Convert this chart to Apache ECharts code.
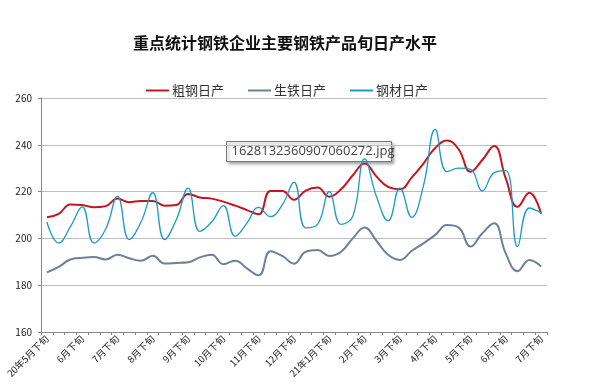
<!DOCTYPE html>
<html><head><meta charset="utf-8">
<script src="https://cdn.jsdelivr.net/npm/echarts@6/dist/echarts.min.js"></script>
<style>html,body{margin:0;padding:0;background:#fff}#c{width:595px;height:388px}</style>
</head><body><div id="c"></div>
<script>
var titleText = '重点统计钢铁企业主要钢铁产品旬日产水平';
var seriesNames = ['粗钢日产', '生铁日产', '钢材日产'];
var monthLabels = ['20年5月','6月','7月','8月','9月','10月','11月','12月','21年1月','2月','3月','4月','5月','6月','7月'];
var dekads = ['上旬','中旬','下旬'];
// 43 dekads: 20年5月下旬 ... 21年7月下旬
var categories = [];
(function(){
  categories.push(monthLabels[0] + '下旬');
  for (var m = 1; m < monthLabels.length; m++) {
    for (var d = 0; d < 3; d++) categories.push(monthLabels[m] + dekads[d]);
  }
})();
var crudeSteel = [209,210.5,214.5,214.3,213.3,213.8,217,215.5,216,216,214,214.3,219,217.5,217,215.7,214,212.1,210.3,220.3,220.3,216.5,220.4,221.7,217.8,221,227,232,226.5,222,221,226,232,238.6,241.8,238,228.5,233.5,239.5,225.5,213.5,219.5,210.5];
var pigIron = [185.5,187.8,191,191.7,192,191,193,191.5,190.5,192.6,189.3,189.5,189.8,191.9,193,189,190.5,187.2,184.2,194.5,192.5,189.2,194.3,195,192.5,194.3,200,204.7,199,193,190.8,194.6,197.9,201.5,205.7,204.6,196.5,202.2,206.5,193.5,186,190.8,188];
var steelProducts = [207,198,205,213.5,198,204,218,199.5,207,219.5,199.5,208,221.5,203,207,214,201,206.5,213.3,209.3,214.3,224,204.5,206,220,206,209.5,234,218,207.5,221.5,209,222.5,246.6,228.5,230,229.5,220.3,228,229,196.5,213,211];
var yMin = 160, yMax = 260, yStep = 20;

var chart = echarts.init(document.getElementById('c'), null, {renderer:'canvas'});
var font = '"Noto Sans CJK SC", "Noto Sans", sans-serif';
chart.setOption({
  animation: false,
  backgroundColor: '#fff',
  title: {
    text: titleText, left: 128, top: 30,
    textStyle: {fontFamily: font, fontSize: 16, fontWeight: 'bold', color: '#111'}
  },
  legend: {
    data: seriesNames, left: 141, top: 79, itemGap: 24,
    itemWidth: 23, itemHeight: 2, icon: 'rect',
    textStyle: {fontFamily: font, fontSize: 13, color: '#333', padding: [0,0,0,-2]}
  },
  grid: {left: 41, right: 48, top: 98, bottom: 56},
  xAxis: {
    type: 'category', data: categories, boundaryGap: true,
    axisLine: {lineStyle: {color: '#888', width: 1}},
    axisTick: {show: true, interval: 0, length: 3, lineStyle: {color: '#888'}},
    axisLabel: {interval: 2, rotate: 45, fontSize: 9.5, color: '#222', fontFamily: font, margin: 5}
  },
  yAxis: {
    type: 'value', min: yMin, max: yMax, interval: yStep,
    axisLine: {show: true, lineStyle: {color: '#888'}},
    axisTick: {show: true, length: 3, lineStyle: {color: '#888'}},
    splitLine: {lineStyle: {color: '#bdbdbd', width: 1}},
    axisLabel: {fontSize: 10, color: '#222', fontFamily: font, margin: 9}
  },
  series: [
    {name: seriesNames[0], type: 'line', data: crudeSteel, smooth: 0.45, symbol: 'none',
     lineStyle: {color: '#c4161c', width: 2}, itemStyle: {color: '#c4161c'}, z: 3},
    {name: seriesNames[1], type: 'line', data: pigIron, smooth: 0.45, symbol: 'none',
     lineStyle: {color: '#6d8296', width: 2}, itemStyle: {color: '#6d8296'}, z: 2},
    {name: seriesNames[2], type: 'line', data: steelProducts, smooth: 0.45, symbol: 'none',
     lineStyle: {color: '#1a9bc4', width: 1.3}, itemStyle: {color: '#1a9bc4'}, z: 4}
  ],
  graphic: [{
    type: 'group', left: 226, top: 141, z: 100,
    children: [
      {type: 'rect', shape: {x: 0, y: 0, width: 165, height: 20},
       style: {fill: '#fff', stroke: '#777', lineWidth: 1, shadowBlur: 3, shadowOffsetX: 2, shadowOffsetY: 2, shadowColor: 'rgba(0,0,0,0.35)'}},
      {type: 'text', left: 5, top: 3,
       style: {text: '1628132360907060272.jpg', fill: '#444', font: '13px "Open Sans", "Noto Sans", sans-serif'}}
    ]
  }]
});
</script></body></html>
